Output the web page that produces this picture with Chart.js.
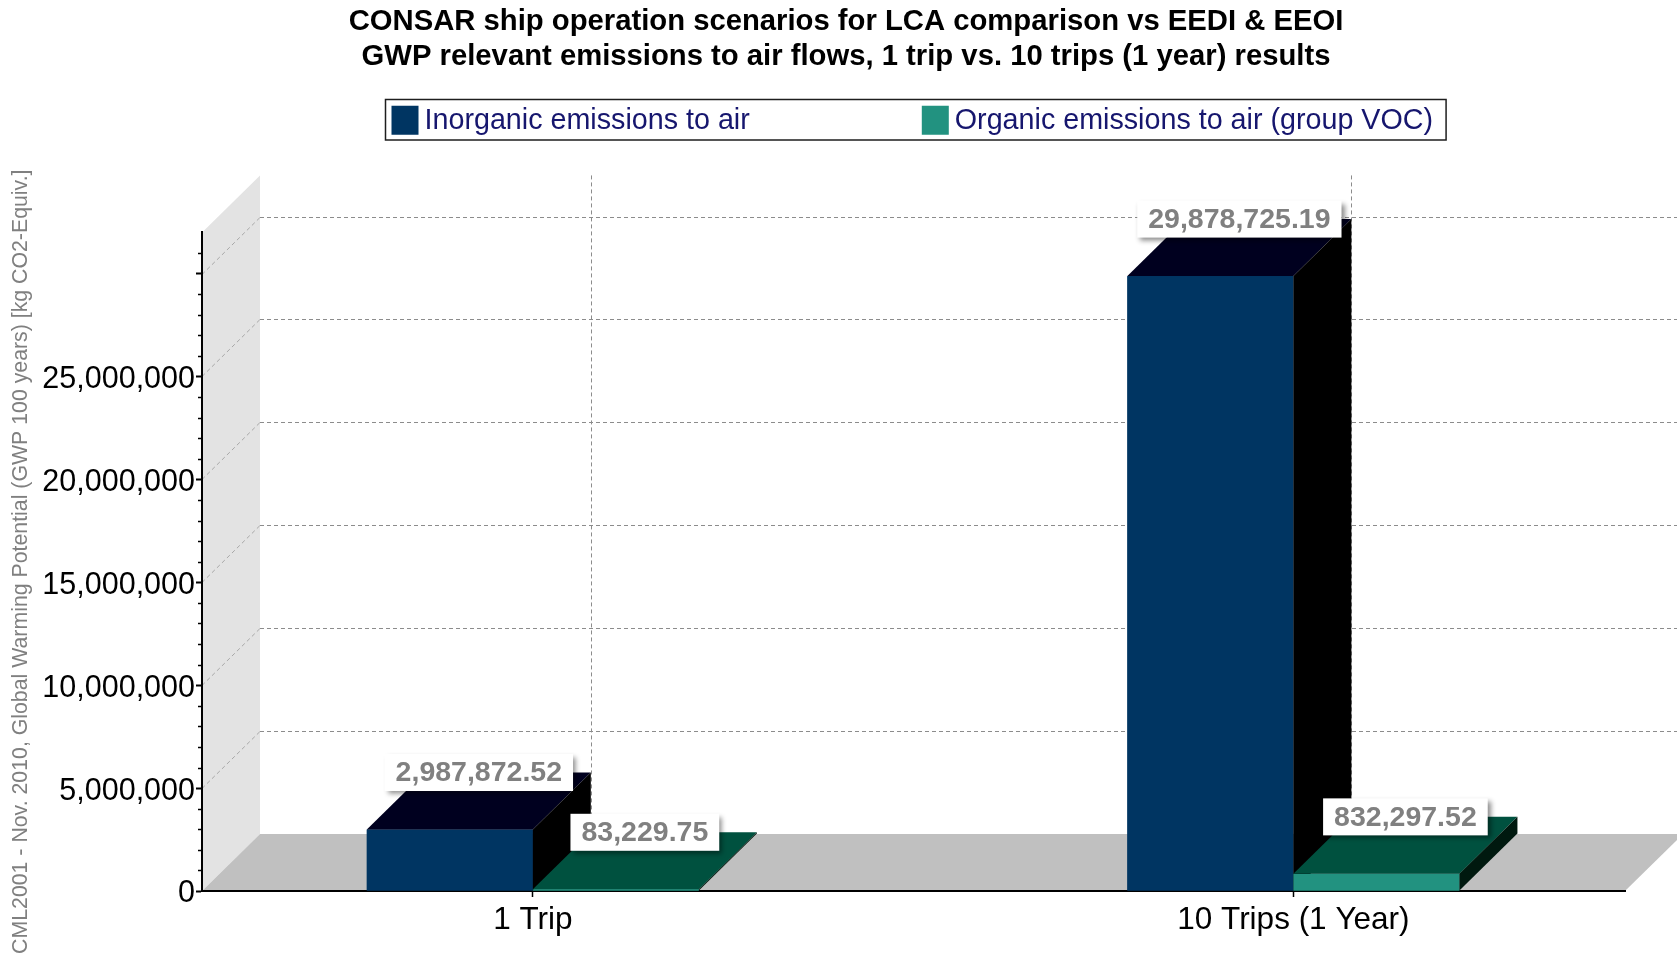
<!DOCTYPE html>
<html>
<head>
<meta charset="utf-8">
<title>CONSAR GWP relevant emissions to air</title>
<script src="https://cdn.jsdelivr.net/npm/chart.js@4.4.1/dist/chart.umd.min.js"></script>
<style>
  html, body { margin: 0; padding: 0; background: #ffffff; }
  #wrap { width: 1677px; height: 957px; position: relative; }
</style>
</head>
<body>
<div id="wrap"><canvas id="c"></canvas></div>
<script>
// ---- data ----
const categories = ['1 Trip', '10 Trips (1 Year)'];
const inorganic = [2987872.52, 29878725.19];
const organic = [83229.75, 832297.52];
const seriesNames = ['Inorganic emissions to air', 'Organic emissions to air (group VOC)'];
const titleLines = [
  'CONSAR ship operation scenarios for LCA comparison vs EEDI & EEOI',
  'GWP relevant emissions to air flows, 1 trip vs. 10 trips (1 year) results'
];
const yAxisTitle = 'CML2001 - Nov. 2010, Global Warming Potential (GWP 100 years) [kg CO2-Equiv.]';
const yMax = 32000000;
const yMajorStep = 5000000;
const yMinorStep = 1000000;
const yLastLabelled = 25000000;

// ---- styling ----
const FONT = "'Liberation Sans', Arial, Helvetica, sans-serif";
const DX = 58;   // depth of the 3D box, horizontal
const DY = 57;   // depth of the 3D box, vertical
const faces = [
  { front: '#003562', top: '#00001f', side: '#000000' },
  { front: '#229280', top: '#00513f', side: '#00190f' }
];

const fmtValue = v => v.toLocaleString('en-US', { minimumFractionDigits: 2, maximumFractionDigits: 2 });

function fillPoly(ctx, pts) {
  ctx.beginPath();
  ctx.moveTo(pts[0][0], pts[0][1]);
  for (let i = 1; i < pts.length; i++) ctx.lineTo(pts[i][0], pts[i][1]);
  ctx.closePath();
  ctx.fill();
}

// side wall, floor and dashed grid on the back planes
const backdrop = {
  id: 'backdrop',
  beforeDraw(chart) {
    const { ctx, chartArea: a, scales: { x, y } } = chart;
    ctx.save();
    ctx.fillStyle = '#e3e3e3';
    fillPoly(ctx, [[a.left, a.bottom], [a.left + DX, a.bottom - DY], [a.left + DX, a.top - DY], [a.left, a.top]]);
    ctx.fillStyle = '#c0c0c0';
    fillPoly(ctx, [[a.left, a.bottom], [a.right, a.bottom], [a.right + DX, a.bottom - DY], [a.left + DX, a.bottom - DY]]);

    ctx.lineWidth = 1;
    ctx.setLineDash([4, 3]);
    y.ticks.forEach(t => {
      if (t.value === 0) return;
      const py = Math.round(y.getPixelForValue(t.value)) + 0.5;
      ctx.strokeStyle = '#a8a8a8';
      ctx.beginPath(); ctx.moveTo(a.left, py); ctx.lineTo(a.left + DX, py - DY); ctx.stroke();
      ctx.strokeStyle = '#8c8c8c';
      ctx.beginPath(); ctx.moveTo(a.left + DX, py - DY); ctx.lineTo(a.right + DX, py - DY); ctx.stroke();
    });
    ctx.strokeStyle = '#8c8c8c';
    x.ticks.forEach(t => {
      const px = Math.round(x.getPixelForValue(t.value)) + DX + 0.5;
      ctx.beginPath(); ctx.moveTo(px, a.top - DY); ctx.lineTo(px, a.bottom - DY); ctx.stroke();
    });
    ctx.restore();
  }
};

// extrudes each bar into a box and puts the value label on top
const bars3d = {
  id: 'bars3d',
  afterDatasetsDraw(chart) {
    const ctx = chart.ctx;
    ctx.save();
    chart.data.datasets.forEach((ds, di) => {
      const f = faces[di];
      chart.getDatasetMeta(di).data.forEach(bar => {
        const { x, y, base, width } = bar.getProps(['x', 'y', 'base', 'width'], true);
        const l = x - width / 2, r = x + width / 2;
        ctx.fillStyle = f.front;
        ctx.fillRect(l, y, width, base - y);
        ctx.fillStyle = f.top;
        fillPoly(ctx, [[l, y], [r, y], [r + DX, y - DY], [l + DX, y - DY]]);
        ctx.fillStyle = f.side;
        fillPoly(ctx, [[r, y], [r + DX, y - DY], [r + DX, base - DY], [r, base]]);
      });
    });

    ctx.font = `bold 28.5px ${FONT}`;
    ctx.textAlign = 'center';
    ctx.textBaseline = 'middle';
    chart.data.datasets.forEach((ds, di) => {
      chart.getDatasetMeta(di).data.forEach((bar, i) => {
        const text = fmtValue(ds.data[i].y);
        const cx = bar.x + DX / 2;
        const cy = bar.y - DY;
        const w = ctx.measureText(text).width + 22;
        const h = 37;
        ctx.save();
        ctx.shadowColor = 'rgba(0,0,0,0.45)';
        ctx.shadowBlur = 5;
        ctx.shadowOffsetX = 3;
        ctx.shadowOffsetY = 3;
        ctx.fillStyle = '#ffffff';
        ctx.fillRect(cx - w / 2, cy - h / 2, w, h);
        ctx.restore();
        ctx.fillStyle = '#808080';
        ctx.fillText(text, cx, cy + 1);
      });
    });
    ctx.restore();
  }
};

// minor ticks on the value axis and the framed legend
const extras = {
  id: 'extras',
  afterDraw(chart) {
    const { ctx, chartArea: a, scales: { y } } = chart;
    ctx.save();
    ctx.strokeStyle = '#000';
    ctx.lineWidth = 1.5;
    for (let v = yMinorStep; v < yMax; v += yMinorStep) {
      if (v % yMajorStep === 0) continue;
      const py = Math.round(y.getPixelForValue(v)) + 0.5;
      ctx.beginPath(); ctx.moveTo(a.left - 4, py); ctx.lineTo(a.left, py); ctx.stroke();
    }

    // legend: two equal columns inside a thin frame
    const top = 99.5, h = 40.5;
    const sw = 27, sh = 29, lead = 6, gap = 6, trail = 13;
    ctx.font = `28.7px ${FONT}`;
    const widths = chart.data.datasets.map(d => ctx.measureText(d.label).width);
    const col = lead + sw + gap + Math.max(...widths) + trail;
    const total = col * widths.length;
    const left = Math.round((a.left + a.right) / 2 - total / 2) + 2.5;
    ctx.strokeStyle = '#1e1e1e';
    ctx.lineWidth = 1.5;
    ctx.strokeRect(left, top, total, h);
    ctx.textAlign = 'left';
    ctx.textBaseline = 'middle';
    chart.data.datasets.forEach((d, i) => {
      const x0 = left + i * col + lead;
      ctx.fillStyle = d.backgroundColor;
      ctx.fillRect(x0, top + (h - sh) / 2 + 0.5, sw, sh);
      ctx.fillStyle = '#16166e';
      ctx.fillText(d.label, x0 + sw + gap, top + h / 2 + 1.5);
    });
    ctx.restore();
  }
};

const toPoints = values => categories.map((_, i) => ({ x: i, y: values[i] }));

new Chart(document.getElementById('c'), {
  type: 'bar',
  data: {
    datasets: [
      { label: seriesNames[0], data: toPoints(inorganic), backgroundColor: faces[0].front,
        borderWidth: 0, categoryPercentage: 0.4366, barPercentage: 1 },
      { label: seriesNames[1], data: toPoints(organic), backgroundColor: faces[1].front,
        borderWidth: 0, categoryPercentage: 0.4366, barPercentage: 1 }
    ]
  },
  options: {
    responsive: true,
    maintainAspectRatio: false,
    animation: false,
    events: [],
    layout: { padding: { left: 15, right: 0, top: 0, bottom: 0 } },
    plugins: {
      legend: { display: false },
      tooltip: { enabled: false },
      title: {
        display: true,
        text: titleLines,
        color: '#000000',
        font: { family: FONT, size: 29.25, weight: 'bold', lineHeight: 1.18 },
        padding: { top: 5, bottom: 158.4 }
      }
    },
    scales: {
      x: {
        type: 'linear',
        position: 'bottom',
        min: -0.435,
        max: 1.436,
        offset: false,
        grid: { display: true, drawOnChartArea: false, drawTicks: true, tickLength: 6,
                tickWidth: 1.5, tickColor: '#000', offset: false },
        border: { display: true, color: '#000', width: 2 },
        afterBuildTicks: s => { s.ticks = categories.map((_, i) => ({ value: i })); },
        ticks: { autoSkip: false, maxRotation: 0, minRotation: 0, padding: 4, color: '#000',
                 font: { family: FONT, size: 31.5 }, callback: v => categories[v] ?? '' },
        afterFit: s => { s.height = 66; }
      },
      y: {
        type: 'linear',
        position: 'left',
        min: 0,
        max: yMax,
        grid: { display: true, drawOnChartArea: false, drawTicks: true, tickLength: 6,
                tickWidth: 2, tickColor: '#000' },
        border: { display: true, color: '#000', width: 2 },
        afterBuildTicks: s => {
          const t = [];
          for (let v = 0; v < yMax; v += yMajorStep) t.push({ value: v });
          s.ticks = t;
        },
        ticks: {
          autoSkip: false,
          padding: 1,
          labelOffset: 3,
          color: '#000',
          font: { family: FONT, size: 30.5 },
          // the major tick above the last label is drawn bare
          callback: v => (v > yLastLabelled ? '' : v.toLocaleString('en-US'))
        },
        title: { display: true, text: yAxisTitle, color: '#808080',
                 font: { family: FONT, size: 21.3 }, padding: { top: -6.4, bottom: 0 } },
        afterFit: s => { s.width = 187; }
      },
      yR: {
        type: 'linear',
        position: 'right',
        display: true,
        grid: { display: false },
        border: { display: false },
        ticks: { display: false },
        afterFit: s => { s.width = 52; }
      }
    }
  },
  plugins: [backdrop, bars3d, extras]
});
</script>
</body>
</html>
